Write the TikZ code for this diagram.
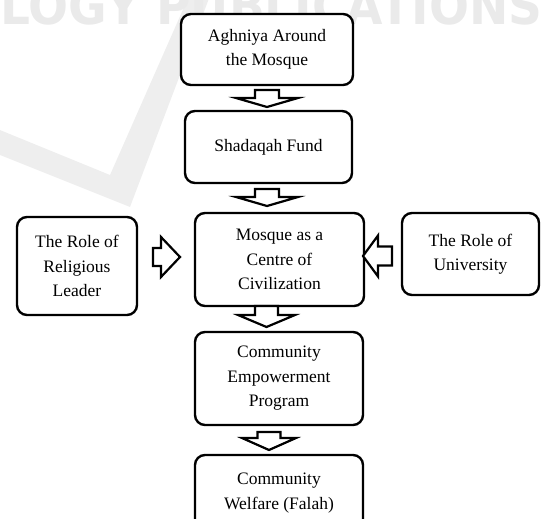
\documentclass[tikz,border=0pt]{standalone}
\usepackage{fontspec}
\setmainfont{Liberation Serif}
\setsansfont{DejaVu Sans}
\usepackage{graphicx}
\usetikzlibrary{calc}
\definecolor{wmtext}{HTML}{EAEAEA}
\definecolor{wmshape}{HTML}{EEEEEE}
\begin{document}
\begin{tikzpicture}[x=1pt,y=-1pt,
  box/.style={draw, line width=2.4pt, rounded corners=10pt, fill=white, align=center,
    inner sep=0pt, outer sep=0pt, font=\fontsize{17.5}{24.5}\selectfont},
  blk/.style={draw, line width=2.2pt, fill=white, line join=miter}]
\useasboundingbox (0,0) rectangle (542,519);
\clip (0,0) rectangle (542,519);
% watermark
\fill[wmshape] (-5,128) -- (110,175) -- (196,-20) -- (216,-20) -- (130,207) -- (-5,153) -- cycle;
\node[anchor=south west, inner sep=0pt, text=wmtext] (wm) at (0,25)
  {\resizebox{542pt}{38pt}{\sffamily\bfseries LOGY\ PUBLICATIONS}};
% boxes
\node[box, minimum width=172pt, minimum height=71pt] (top) at (267,49.5) {Aghniya Around\\the Mosque};
\node[box, minimum width=167pt, minimum height=72pt] (shad) at (268.5,147) {Shadaqah Fund};
\node[box, minimum width=169pt, minimum height=93pt] (mosque) at (279.5,259.5) {Mosque as a\\Centre of\\Civilization};
\node[box, minimum width=120pt, minimum height=98pt] (left) at (77,266) {The Role of\\Religious\\Leader};
\node[box, minimum width=137pt, minimum height=82pt] (right) at (470.5,254) {The Role of\\University};
\node[box, minimum width=168pt, minimum height=93pt] (emp) at (279,378.5) {Community\\Empowerment\\Program};
\node[box, minimum width=168pt, minimum height=76pt] (welf) at (279,493) {Community\\Welfare (Falah)};
% block arrows
\coordinate (t1) at ($(top.south)+(0,5)$);
\draw[blk] (t1) ++(-12,0) -- ++(24,0) -- ++(0,8) -- ++(19,0) -- ++(-31,9) -- ++(-31,-9) -- ++(19,0) -- cycle;
\coordinate (t2) at ($(shad.south)+(-1.5,6)$);
\draw[blk] (t2) ++(-12,0) -- ++(24,0) -- ++(0,8) -- ++(19,0) -- ++(-31,9) -- ++(-31,-9) -- ++(19,0) -- cycle;
\coordinate (t3) at ($(mosque.south)+(-13,0)$);
\draw[blk] (t3) ++(-11.5,0) -- ++(23,0) -- ++(0,9) -- ++(17,0) -- ++(-28.5,12) -- ++(-28.5,-12) -- ++(17,0) -- cycle;
\coordinate (t4) at ($(emp.south)+(-10,7)$);
\draw[blk] (t4) ++(-11.5,0) -- ++(23,0) -- ++(0,6) -- ++(15.5,0) -- ++(-27,12) -- ++(-27,-12) -- ++(15.5,0) -- cycle;
\coordinate (t5) at ($(left.east)+(16,-9)$);
\draw[blk] (t5) ++(0,-9) -- ++(8,0) -- ++(0,-11) -- ++(19,20) -- ++(-19,20) -- ++(0,-11) -- ++(-8,0) -- cycle;
\coordinate (t6) at ($(right.west)+(-10,2)$);
\draw[blk] (t6) ++(0,-9.5) -- ++(-14,0) -- ++(0,-11) -- ++(-15,20.5) -- ++(15,20.5) -- ++(0,-11) -- ++(14,0) -- cycle;
\end{tikzpicture}
\end{document}
